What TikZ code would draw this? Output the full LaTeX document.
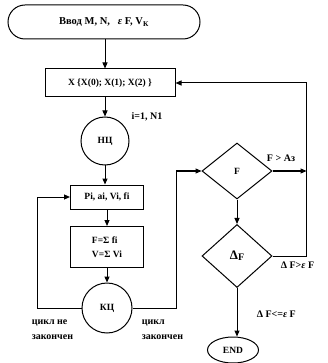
\documentclass[tikz,border=0pt]{standalone}
\usepackage{fontspec}
\setmainfont{Liberation Serif}
\usetikzlibrary{shapes.geometric,shapes.misc,arrows.meta}

\begin{document}
\begin{tikzpicture}[x=1pt, y=-1pt, line width=1pt,
    font=\fontsize{9.5}{14}\selectfont\bfseries,
    flowTermStyle/.style={draw, rounded rectangle, minimum width=192pt, minimum height=34pt, inner sep=0pt},
    flowBoxStyle/.style={draw, minimum width=73pt, minimum height=24pt, inner sep=2pt, align=center},
    flowLoopStyle/.style={draw, circle, inner sep=0pt},
    flowDecStyle/.style={draw, diamond, inner sep=0pt, minimum width=70pt},
    flowEndStyle/.style={draw, ellipse, minimum width=51pt, minimum height=26pt, inner sep=0pt},
    flowLblStyle/.style={font=\fontsize{10}{15}\selectfont\bfseries},
    flowArrowStyle/.style={-{Triangle[length=6pt, width=5pt]}}]

    \useasboundingbox (0,0) rectangle (327,363);

    % Left column
    \node[flowTermStyle, font=\fontsize{10.5}{14}\selectfont\bfseries] (start) at (104, 22) {Ввод M, N,\ \ \ \textit{ε} F, V\textsubscript{К}};
    \node[flowBoxStyle, minimum width=130pt, minimum height=28pt] (xSet) at (110, 83) {X \{X(0); X(1); X(2) \}};
    \node[flowLoopStyle, minimum size=48pt] (nc) at (105, 141) {НЦ};
    \node[flowLblStyle] (ncLbl) at (147, 117) {i=1, N1};
    \node[flowBoxStyle] (params) at (107, 197) {Pi, ai, Vi, fi};
    \node[flowBoxStyle, minimum height=41pt, align=left] (sums) at (107, 247) {F=Σ fi\\V=Σ Vi};
    \node[flowLoopStyle, minimum size=50pt] (kc) at (107, 308) {КЦ};
    \node[flowLblStyle, anchor=west, align=left] (notDone) at (28, 330) {цикл не\\закончен};
    \node[flowLblStyle, anchor=west, align=left] (done) at (138, 330) {цикл\\закончен};

    % Right column
    \node[flowDecStyle, minimum height=56pt] (decF) at (237, 171) {F};
    \node[flowLblStyle] (gtLbl) at (281, 158) {F > Aз};
    \node[flowDecStyle, minimum height=63pt] (decDelta) at (237, 256) {\fontsize{13}{14}\selectfont Δ\raisebox{-1pt}{\fontsize{10}{10}\selectfont F}};
    \node[flowLblStyle, anchor=west] (gtEps) at (277, 265) {Δ F>\textit{ε} F};
    \node[flowLblStyle, anchor=west] (leEps) at (253, 314) {Δ F<=\textit{ε} F};
    \node[flowEndStyle] (fin) at (233, 350) {END};

    \draw[flowArrowStyle] (start.south -| 105,0) -- (105, 0 |- xSet.north);
    \draw[flowArrowStyle] (105, 0 |- xSet.south) -- (nc.north);
    \draw[flowArrowStyle] (nc.south) -- (nc.south |- params.north);
    \draw[flowArrowStyle] (params) -- (sums);
    \draw[flowArrowStyle] (sums) -- (kc);
    \draw[flowArrowStyle] (kc.west) -- (37, 308) |- (params.west);
    \draw[flowArrowStyle] (kc.east) -- (176, 308) |- (decF.west);
    \draw[flowArrowStyle] (decF.east) -- ++(34, 0);
    \draw[flowArrowStyle] (decF) -- (decDelta);
    \draw[flowArrowStyle] (decDelta.east) -- ++(34, 0) |- (xSet.east);
    \draw[flowArrowStyle] (decDelta.south) -- (decDelta.south |- fin.north);
\end{tikzpicture}
\end{document}
